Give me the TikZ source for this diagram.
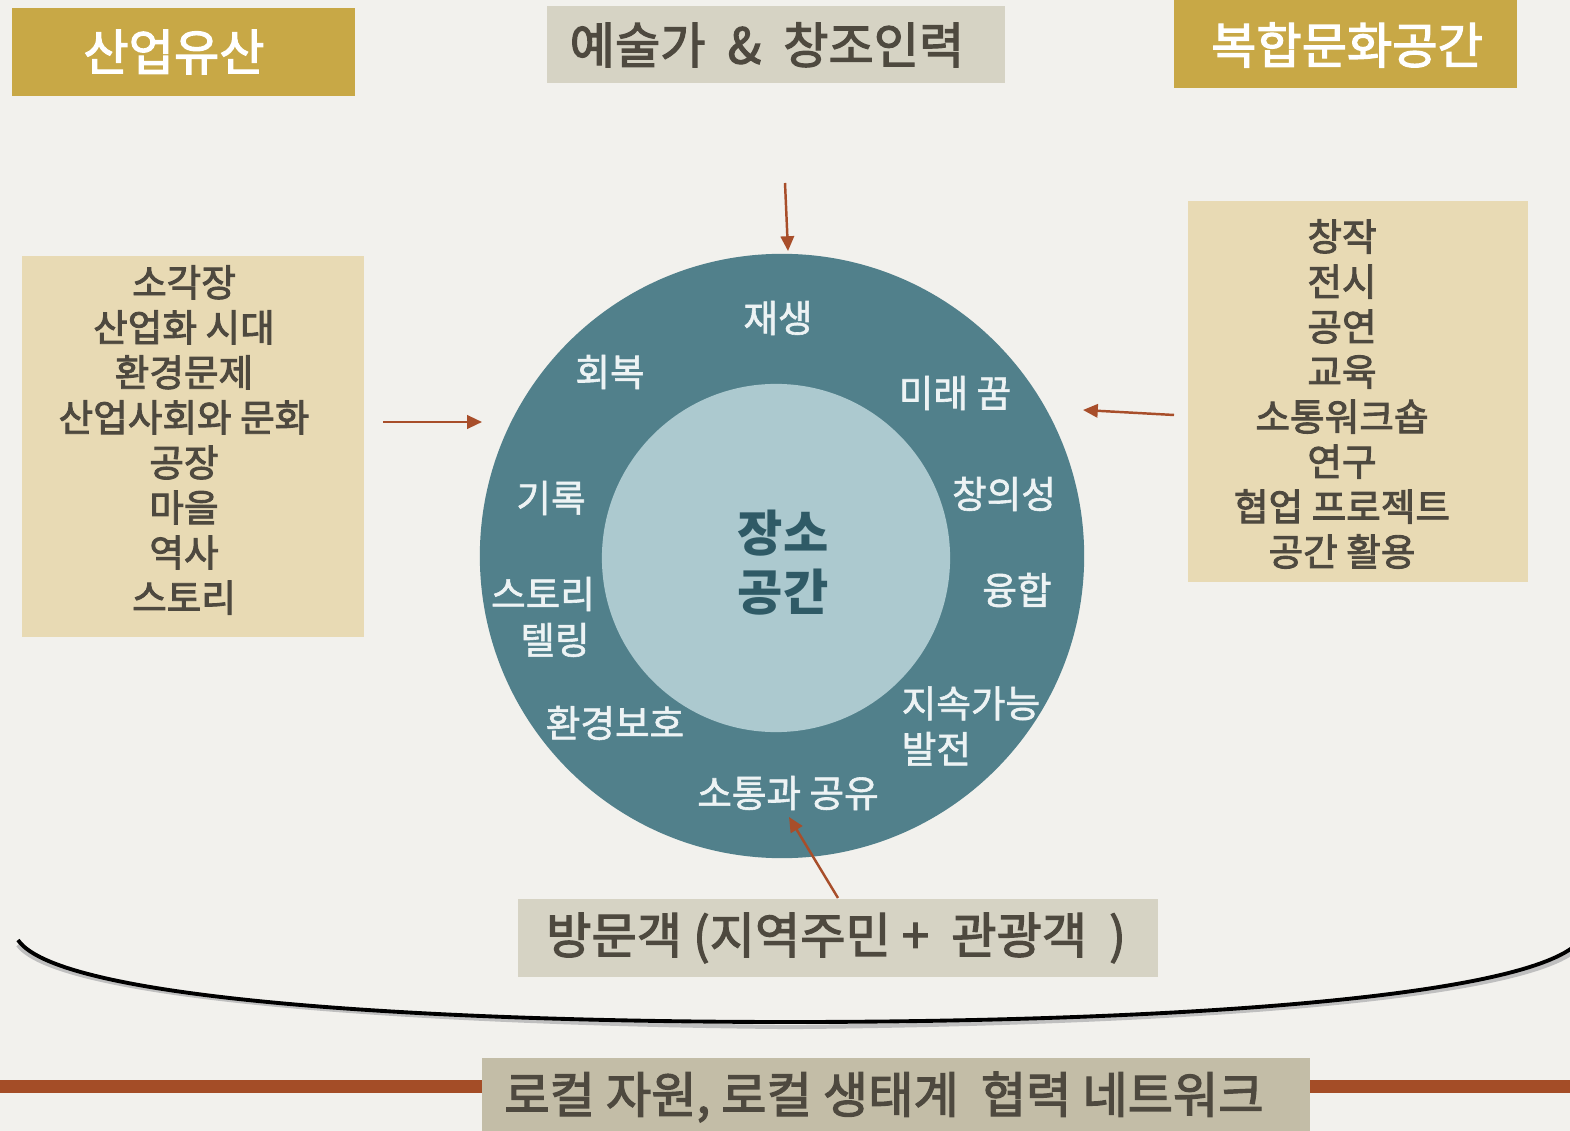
\documentclass[tikz,border=0pt]{standalone}
\usepackage{fontspec}
\setmainfont{Noto Sans CJK KR}
\newfontfamily\medfont{Noto Sans CJK KR}[FakeBold=1.6]
\newfontfamily\semifont{Noto Sans CJK KR}[FakeBold=2.4]
\usetikzlibrary{arrows.meta}
\definecolor{bg}{HTML}{F2F1ED}
\definecolor{gold}{HTML}{C8A846}
\definecolor{grayb}{HTML}{D6D3C4}
\definecolor{beige}{HTML}{E8DAB4}
\definecolor{tealc}{HTML}{51808B}
\definecolor{lteal}{HTML}{ACC9CF}
\definecolor{dteal}{HTML}{2F5A66}
\definecolor{txt}{HTML}{4E493F}
\definecolor{rust}{HTML}{A84E2A}
\definecolor{band}{HTML}{A44D27}
\definecolor{taupe}{HTML}{C3BDA7}
\definecolor{lbl}{HTML}{EDF3F4}
\begin{document}
\begin{tikzpicture}[x=0.01cm,y=-0.01cm,
  plainbox/.style={draw=none,inner sep=0,outer sep=0},
  titletext/.style={font=\fontsize{14}{16}\selectfont\semifont,text=white,inner sep=0},
  headtext/.style={font=\fontsize{14}{16}\selectfont\semifont,text=txt,inner sep=0},
  listtext/.style={font=\fontsize{10.7}{12.8}\selectfont\semifont,text=txt,align=center,inner sep=0},
  ringtext/.style={font=\fontsize{10.7}{13}\selectfont\medfont,text=lbl,inner sep=0},
  arr/.style={draw=rust,line width=0.7pt,-{Triangle[length=4.2pt,width=3.8pt]}}
]
\useasboundingbox (0,0) rectangle (1570,1131);
\fill[bg] (0,0) rectangle (1570,1131);

% title boxes
\node[plainbox,fill=gold,minimum width=3.43cm,minimum height=0.88cm] (t1box) at (183.5,52) {};
\node[titletext] (t1) at (174,52) {산업유산};
\node[plainbox,fill=grayb,minimum width=4.58cm,minimum height=0.77cm] (t2box) at (776,44.5) {};
\node[headtext] (t2) at (767,45) {예술가\ \ \&\ \ 창조인력};
\node[plainbox,fill=gold,minimum width=3.43cm,minimum height=0.88cm] (t3box) at (1345.5,44) {};
\node[titletext] (t3) at (1347,45) {복합문화공간};

% side boxes
\node[plainbox,fill=beige,minimum width=3.42cm,minimum height=3.81cm] (lbox) at (193,446.5) {};
\node[listtext] (ltext) at (184,440) {소각장\\산업화 시대\\환경문제\\산업사회와 문화\\공장\\마을\\역사\\스토리};
\node[plainbox,fill=beige,minimum width=3.40cm,minimum height=3.81cm] (rbox) at (1358,391.5) {};
\node[listtext] (rtext) at (1342,394) {창작\\전시\\공연\\교육\\소통워크숍\\연구\\협업 프로젝트\\공간 활용};

% circles
\node[circle,fill=tealc,minimum size=6.04cm,inner sep=0] (outer) at (782,556) {};
\node[circle,fill=lteal,minimum size=3.48cm,inner sep=0] (inner) at (776,558) {};
\node[font=\fontsize{14}{16.8}\selectfont\bfseries,text=dteal,align=center,inner sep=0] (center) at (783,563) {장소\\공간};

\node[ringtext] (r1) at (778,318) {재생};
\node[ringtext] (r2) at (610,372) {회복};
\node[ringtext] (r3) at (955,393) {미래 꿈};
\node[ringtext] (r4) at (551,498) {기록};
\node[ringtext] (r5) at (1004,494) {창의성};
\node[ringtext] (r6a) at (543,594) {스토리};
\node[ringtext] (r6b) at (555,640) {텔링};
\node[ringtext] (r7) at (1017,590) {융합};
\node[ringtext] (r8) at (615,723) {환경보호};
\node[ringtext,align=left,anchor=west] (r9) at (901,726) {지속가능\\발전};
\node[ringtext] (r10) at (788,793) {소통과 공유};

% arrows
\coordinate (atop1) at (785,183);
\coordinate (atop2) at (788,251);
\draw[arr] (atop1) -- (atop2);
\coordinate (aleft1) at (383,422);
\coordinate (aleft2) at (482,422);
\draw[arr] (aleft1) -- (aleft2);
\coordinate (aright1) at (1174,415);
\coordinate (aright2) at (1083,410);
\draw[arr] (aright1) -- (aright2);
\coordinate (abot1) at (838,898);
\coordinate (abot2) at (789,817);
\draw[arr] (abot1) -- (abot2);

% curve
\coordinate (cv1) at (18,940);
\coordinate (cv2) at (790,1022);
\coordinate (cv3) at (1572,948);
\draw[black!25,line width=1.2pt] ([yshift=-0.05cm]cv1) .. controls (60,1002) and (450,1024) .. ([yshift=-0.05cm]cv2) .. controls (1150,1024) and (1500,1002) .. ([yshift=-0.05cm]cv3);
\draw[black,line width=1.1pt] (cv1) .. controls (60,1002) and (450,1022) .. (cv2) .. controls (1150,1022) and (1500,1000) .. (cv3);

% visitors box
\node[plainbox,fill=grayb,minimum width=6.40cm,minimum height=0.78cm] (vbox) at (838,938) {};
\node[headtext] (vtext) at (836,938) {방문객 (지역주민 +\ \ 관광객\ \ )};

% bottom band
\coordinate (bd1) at (0,1086);
\coordinate (bd2) at (1570,1086);
\draw[band,line width=3.7pt] (bd1) -- (bd2);
\node[plainbox,fill=taupe,minimum width=8.28cm,minimum height=0.76cm] (nbox) at (896,1096) {};
\node[headtext] (ntext) at (884,1097) {로컬 자원, 로컬 생태계\ \ 협력 네트워크};
\end{tikzpicture}
\end{document}
